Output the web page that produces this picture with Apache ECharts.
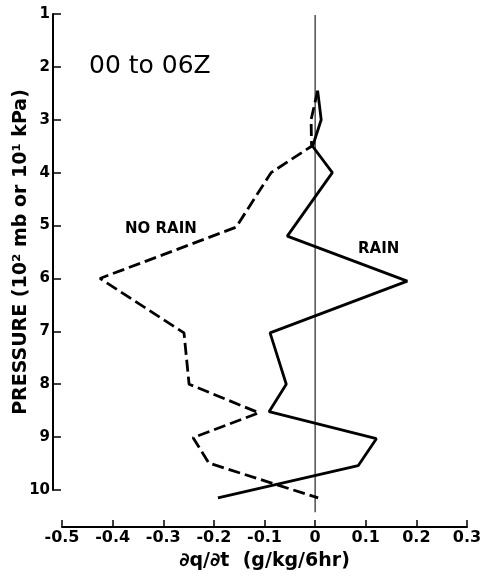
<!DOCTYPE html>
<html>
<head>
<meta charset="utf-8">
<script src="https://cdn.jsdelivr.net/npm/echarts@6/dist/echarts.min.js"></script>
<style>
  html, body { margin: 0; padding: 0; background: #fff; }
  #chart { width: 481px; height: 579px; }
</style>
</head>
<body>
<div id="chart"></div>
<script>
// Moisture tendency profiles, 00 to 06Z (pressure in units of 100 mb)
const rainPressure   = [2.45, 3.0, 3.5, 4.0, 5.2, 6.05, 7.03, 8.0, 8.52, 9.03, 9.54, 10.15];
const rainDqdt       = [0.005, 0.012, -0.005, 0.034, -0.055, 0.182, -0.089, -0.057, -0.091, 0.121, 0.085, -0.192];
const noRainPressure = [2.45, 3.0, 3.5, 4.0, 5.03, 6.0, 7.03, 8.0, 8.54, 9.01, 9.49, 10.15];
const noRainDqdt     = [0.005, -0.008, -0.007, -0.087, -0.156, -0.425, -0.259, -0.249, -0.111, -0.241, -0.21, 0.006];
// zero reference line
const zeroPressure   = [1.02, 10.42];
const zeroDqdt       = [0, 0];

const xTicks = { min: -0.5, max: 0.3, step: 0.1 };
const yTicks = { min: 1, max: 10, step: 1 };

const FONT = 'DejaVu Sans';

function pairs(xs, ys) { return xs.map((x, i) => [x, ys[i]]); }

const chart = echarts.init(document.getElementById('chart'), null, { renderer: 'canvas' });

chart.setOption({
  animation: false,
  backgroundColor: '#fff',
  title: {
    text: '00 to 06Z',
    left: 84,
    top: 49,
    textStyle: { fontFamily: FONT, fontSize: 25, fontWeight: 'normal', color: '#000' }
  },
  grid: { left: 62, right: 14, top: 14, bottom: 89, containLabel: false, outerBoundsMode: 'none' },
  xAxis: {
    type: 'value',
    min: xTicks.min, max: xTicks.max, interval: xTicks.step,
    offset: 37,
    name: '\u2202q/\u2202t  (g/kg/6hr)',
    nameLocation: 'middle',
    nameGap: 25,
    nameMoveOverlap: false,
    nameTextStyle: { fontFamily: FONT, fontSize: 19, fontWeight: 'bold', color: '#000' },
    axisLine: { show: true, onZero: false, lineStyle: { color: '#000', width: 2 } },
    axisTick: { show: true, inside: true, length: 7, lineStyle: { color: '#000', width: 1.5 } },
    axisLabel: {
      margin: 3,
      fontFamily: FONT, fontSize: 16, fontWeight: 'bold', color: '#000',
      formatter: v => (Math.round(v * 10) / 10).toString()
    },
    splitLine: { show: false }
  },
  yAxis: {
    type: 'value',
    inverse: true,
    min: yTicks.min, max: yTicks.max, interval: yTicks.step,
    offset: 9,
    name: 'PRESSURE (10\u00B2 mb or 10\u00B9 kPa)',
    nameLocation: 'middle',
    nameRotate: 90,
    nameGap: 22,
    nameMoveOverlap: false,
    nameTextStyle: { fontFamily: FONT, fontSize: 19, fontWeight: 'bold', color: '#000' },
    axisLine: { show: true, onZero: false, lineStyle: { color: '#000', width: 2 } },
    axisTick: { show: true, inside: true, length: 8, lineStyle: { color: '#000', width: 1.5 } },
    axisLabel: { margin: 3, fontFamily: FONT, fontSize: 15, fontWeight: 'bold', color: '#000' },
    splitLine: { show: false }
  },
  graphic: [
    {
      type: 'text', left: 125, top: 222,
      style: { text: 'NO RAIN', fontFamily: FONT, fontSize: 15, fontWeight: 'bold', fill: '#000' }
    },
    {
      type: 'text', left: 358, top: 242,
      style: { text: 'RAIN', fontFamily: FONT, fontSize: 15, fontWeight: 'bold', fill: '#000' }
    }
  ],
  series: [
    {
      name: 'zero',
      type: 'line',
      data: pairs(zeroDqdt, zeroPressure),
      symbol: 'none',
      clip: false,
      lineStyle: { color: '#222', width: 1.2 },
      z: 1
    },
    {
      name: 'NO RAIN',
      type: 'line',
      data: pairs(noRainDqdt, noRainPressure),
      symbol: 'none',
      clip: false,
      lineStyle: { color: '#000', width: 2.8, type: [12, 5] },
      z: 2
    },
    {
      name: 'RAIN',
      type: 'line',
      data: pairs(rainDqdt, rainPressure),
      symbol: 'none',
      clip: false,
      lineStyle: { color: '#000', width: 2.8 },
      z: 3
    }
  ]
});
</script>
</body>
</html>
